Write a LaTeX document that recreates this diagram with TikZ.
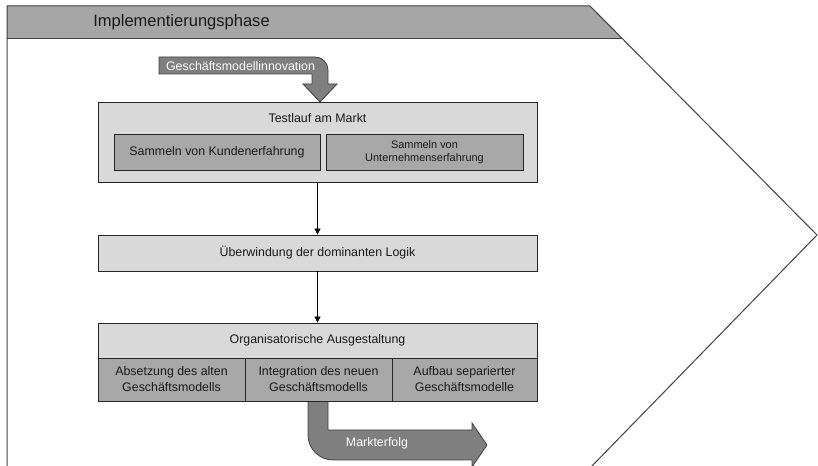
\documentclass[tikz,border=0pt]{standalone}
\usepackage{fontspec}
\setmainfont{Liberation Sans}
\usetikzlibrary{arrows.meta,shadows}
\definecolor{hdrgray}{HTML}{A6A6A6}
\definecolor{lightgray2}{HTML}{D9D9D9}
\definecolor{midgray}{HTML}{A8A8A8}
\definecolor{arrowgray}{HTML}{7F7F7F}
\definecolor{framegray}{HTML}{404040}
\begin{document}
\begin{tikzpicture}[x=0.75pt,y=-0.75pt,
  sz/.style 2 args={minimum width=#1*0.75pt, minimum height=#2*0.75pt},
  box/.style={draw=black!85, line width=0.6pt, inner sep=0pt, align=center,
    font=\fontsize{9.3}{12}\selectfont, text=black!90},
  lightbox/.style={box, fill=lightgray2,
    drop shadow={shadow xshift=0.5pt, shadow yshift=-0.8pt, fill=black!55, opacity=1}},
  darkbox/.style={box, fill=midgray},
  conn/.style={draw=black, line width=0.6pt, -{Triangle[length=4.5pt,width=4.5pt]}},
  blockarrow/.style={draw=framegray, fill=arrowgray, line width=0.6pt},
  arrowtxt/.style={text=white, font=\fontsize{9.3}{12}\selectfont, inner sep=0pt},
  frame/.style={draw=framegray, line width=0.75pt}]
\useasboundingbox (0,0) rectangle (818,466);

% phase frame with header band
\fill[hdrgray] (7,6) -- (590,6) -- (623,39) -- (7,39) -- cycle;
\draw[frame] (7,467) -- (7,6) -- (590,6) -- (817,235) -- (591,467);
\draw[frame] (7,39) -- (623,39);
\node[font=\fontsize{12.4}{14}\selectfont, text=black!90, inner sep=0pt] (hdr) at (181.5,22) {Implementierungsphase};

% input block arrow
\draw[blockarrow] (159,57) -- (315,57) .. controls (322.2,57) and (328,62.8) .. (328,70)
  -- (328,84) -- (337,84) -- (320,102) -- (303,84) -- (312,84) -- (312,74) -- (159,74) -- cycle;
\node[arrowtxt] (gmi) at (240.5,66) {Geschäftsmodellinnovation};

% Testlauf am Markt
\node[lightbox, sz={439}{80}] (testlauf) at (317.5,142) {};
\node[box, draw=none] (testlauftitle) at (317.5,118) {Testlauf am Markt};
\node[darkbox, sz={206}{36}] (kunden) at (217,152) {Sammeln von Kundenerfahrung};
\node[darkbox, sz={197}{36}, font=\fontsize{8.2}{9.6}\selectfont] (untern) at (424.5,152) {Sammeln von\\Unternehmenserfahrung};

% Ueberwindung
\node[lightbox, sz={439}{36}] (ueber) at (317.5,253) {Überwindung der dominanten Logik};

% output block arrow (drawn before the cells)
\draw[blockarrow] (308,401) -- (308,435) .. controls (308,448.8) and (319.2,460) .. (333,460)
  -- (472,460) -- (472,467) -- (487,445) -- (472,423) -- (472,430) -- (328,430) -- (328,401) -- cycle;
\node[arrowtxt] (markt) at (377,443) {Markterfolg};

% Organisatorische Ausgestaltung
\node[lightbox, sz={439}{78}] (orgframe) at (317.5,362) {};
\node[box, fill=lightgray2, sz={439}{35}] (orgtop) at (317.5,340.5) {Organisatorische Ausgestaltung};
\node[darkbox, sz={147}{43}] (cellA) at (171.5,379.5) {Absetzung des alten\\Geschäftsmodells};
\node[darkbox, sz={147}{43}] (cellB) at (318.5,379.5) {Integration des neuen\\Geschäftsmodells};
\node[darkbox, sz={145}{43}] (cellC) at (464.5,379.5) {Aufbau separierter\\Geschäftsmodelle};

% connectors
\draw[conn] (testlauf.south) -- (ueber.north);
\draw[conn] (ueber.south) -- (orgtop.north);
\end{tikzpicture}
\end{document}
